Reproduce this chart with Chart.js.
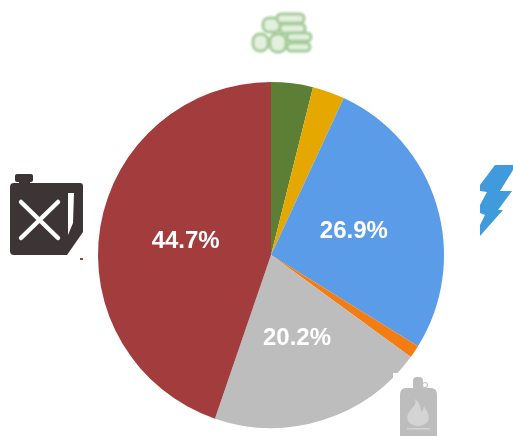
<!DOCTYPE html>
<html><head><meta charset="utf-8">
<style>html,body{margin:0;padding:0;background:#fff;width:513px;height:436px;overflow:hidden}
canvas{position:absolute;left:0;top:0}svg{position:absolute;left:0;top:0}</style>
<script src="https://cdn.jsdelivr.net/npm/chart.js@4"></script></head>
<body><canvas id="c" width="513" height="436"></canvas>
<svg width="513" height="436" viewBox="0 0 513 436">
<defs><filter id="b" x="-10%" y="-10%" width="120%" height="120%"><feGaussianBlur stdDeviation="0.7"/></filter>
<filter id="w" x="-10%" y="-10%" width="120%" height="120%"><feGaussianBlur stdDeviation="0.9"/></filter></defs>
<g filter="url(#b)">
<!-- jerrycan -->
<rect x="15" y="174" width="18" height="8" rx="2" fill="#3d3434"/><rect x="19" y="178" width="11" height="8" fill="#3d3434"/>
<path d="M14 183H80Q83 183 83 186V232L67 255H14Q10 255 10 251V187Q10 183 14 183Z" fill="#3d3434"/>
<path d="M21 202L58 238M58 202L21 238" stroke="#fff" stroke-width="4.5" stroke-linecap="round"/>
<path d="M68 193H74L73 223L68 235Z" fill="#fff"/>
<rect x="80" y="258" width="3" height="2" fill="#a33d3d"/>
<!-- bolt -->
<path d="M495 165H513V170L500 191H512L498 210H503L480 236V225L485 215L480 213V205L487 192L480 191V185Z" fill="#3f9bdc"/>
</g>
<!-- notch behind gas bottle -->
<rect x="393" y="373" width="50" height="63" fill="#fff"/>
<g filter="url(#b)">
<rect x="413" y="377" width="10" height="13" rx="4" fill="#bdbdbd"/>
<circle cx="425" cy="385" r="2.5" fill="none" stroke="#c4c4c4" stroke-width="1.2"/>
<path d="M406 388H431Q437 388 437 395V436H400V395Q400 388 406 388Z" fill="#bdbdbd"/>
<path d="M415 399C417 405 412 407 408 414C405 421 411 426 418 426C425 426 431 421 428 414C427 410 425 409 424 406C423 411 422 411 421 412C421 407 419 402 415 399Z" fill="#d4d4d4"/>
<rect x="407" y="428" width="23" height="1.5" fill="#d4d4d4"/>
</g>
<!-- logs -->
<g filter="url(#w)" fill="#e4f0df" stroke="#a5cc9a" stroke-width="3">
<rect x="263" y="18" width="17" height="14" rx="6"/>
<rect x="277" y="14" width="27" height="9" rx="4"/>
<rect x="280" y="24" width="25" height="9" rx="4"/>
<rect x="253" y="34" width="15" height="17" rx="7"/>
<rect x="270" y="34" width="16" height="18" rx="7"/>
<rect x="287" y="33" width="24" height="8" rx="4"/>
<rect x="287" y="43" width="23" height="8" rx="4"/>
</g>
</svg>
<script>
const categories = ['Wood','Coal','Electricity','Other','Gas','Oil'];
const values = [3.9, 3.0, 26.9, 1.2, 20.2, 44.7];
const colors = ['#5d7f35','#e5a800','#5b9ce8','#f37d13','#bdbdbd','#a33d3d'];
const minLabel = 10;
const pctLabels = {
  id:'pctLabels',
  afterDatasetsDraw(chart){
    const ctx = chart.ctx, meta = chart.getDatasetMeta(0);
    ctx.save();
    ctx.font = 'bold 24px "Liberation Sans", Arial, sans-serif';
    ctx.fillStyle = '#fff'; ctx.textAlign='center'; ctx.textBaseline='middle';
    meta.data.forEach((arc,i)=>{
      if(values[i] < minLabel) return;
      const p = arc.tooltipPosition();
      ctx.fillText(values[i].toFixed(1)+'%', p.x, p.y + 1);
    });
    ctx.restore();
  }
};
new Chart(document.getElementById('c'),{
  type:'pie',
  data:{labels:categories,datasets:[{data:values,backgroundColor:colors,borderWidth:0}]},
  options:{responsive:false,animation:false,
    layout:{padding:{left:29,right:0,top:82,bottom:8}},
    plugins:{legend:{display:false},tooltip:{enabled:false}}},
  plugins:[pctLabels]
});
</script></body></html>
